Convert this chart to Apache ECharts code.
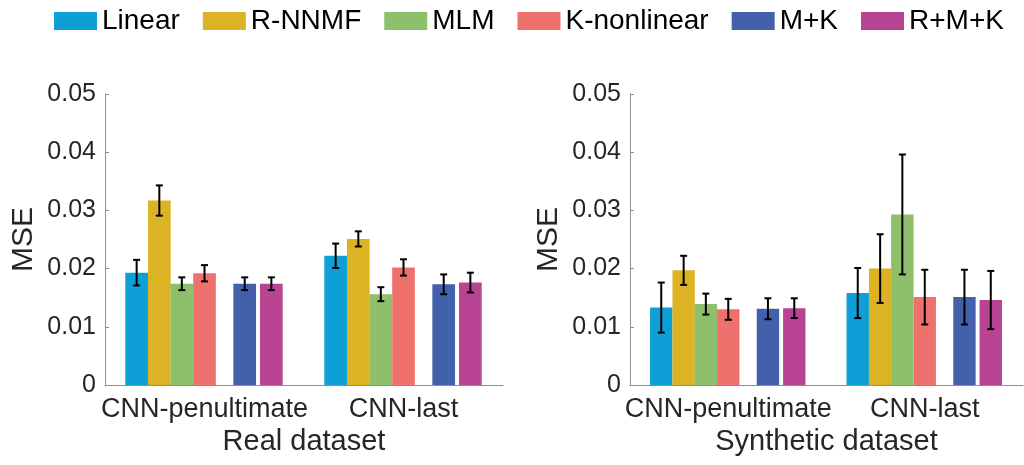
<!DOCTYPE html>
<html>
<head>
<meta charset="utf-8">
<script src="https://cdn.jsdelivr.net/npm/echarts@6/dist/echarts.min.js"></script>
<style>
  html, body { margin: 0; padding: 0; background: #fff; }
  #chart { width: 1024px; height: 465px; }
</style>
</head>
<body>
<div id="chart"></div>
<script>
// ---- Data ----
const categories = ['CNN-penultimate', 'CNN-last'];
const methods = ['Linear', 'R-NNMF', 'MLM', 'K-nonlinear', 'M+K', 'R+M+K'];
const yTicks = [0, 0.01, 0.02, 0.03, 0.04, 0.05];

// Real dataset (values per method, in method order) and half error-bar widths
const realPenultimate    = [0.0193, 0.0317, 0.0174, 0.0192, 0.0174, 0.0174];
const realPenultimateErr = [0.0022, 0.0026, 0.0011, 0.0014, 0.0011, 0.0011];
const realLast           = [0.0222, 0.0251, 0.0156, 0.0202, 0.0173, 0.0176];
const realLastErr        = [0.0021, 0.0013, 0.0012, 0.0014, 0.0017, 0.0017];

// Synthetic dataset
const synPenultimate     = [0.0133, 0.0197, 0.0139, 0.0130, 0.0131, 0.0132];
const synPenultimateErr  = [0.0043, 0.0025, 0.0018, 0.0018, 0.0018, 0.0017];
const synLast            = [0.0158, 0.0200, 0.0293, 0.0151, 0.0151, 0.0146];
const synLastErr         = [0.0043, 0.0059, 0.0103, 0.0047, 0.0047, 0.0050];

// ---- Styles / layout ----
const colors = ['#0E9FD6', '#DCB325', '#8EC06C', '#EF716E', '#4361AB', '#B84493'];
// bar centre offsets and width, as fractions of one category's width
const barOffsets = [-0.341, -0.227, -0.114, 0, 0.202, 0.336];
const barWidthFrac = 0.114;
const FONT = "'Liberation Sans', Arial, Helvetica, sans-serif";
const TEXT = '#262626';
const AXIS = '#8f8f8f';

function makeRender(mi) {
  return function (params, api) {
    const xi = api.value(0), v = api.value(1), e = api.value(2);
    const base = api.coord([xi, 0]);
    const top = api.coord([xi, v]);
    const cw = api.size([1, 0])[0];
    const cx = base[0] + barOffsets[mi] * cw;
    const w = barWidthFrac * cw;
    const hi = api.coord([xi, v + e])[1];
    const lo = api.coord([xi, v - e])[1];
    const cap = 3.5;
    const ls = { stroke: '#000', lineWidth: 2 };
    return {
      type: 'group',
      children: [
        { type: 'rect', shape: { x: cx - w / 2, y: top[1], width: w, height: base[1] - top[1] },
          style: { fill: colors[mi] } },
        { type: 'line', shape: { x1: cx, y1: hi, x2: cx, y2: lo }, style: ls },
        { type: 'line', shape: { x1: cx - cap, y1: hi, x2: cx + cap, y2: hi }, style: ls },
        { type: 'line', shape: { x1: cx - cap, y1: lo, x2: cx + cap, y2: lo }, style: ls }
      ]
    };
  };
}

const datasets = [
  { vals: [realPenultimate, realLast], errs: [realPenultimateErr, realLastErr] },
  { vals: [synPenultimate, synLast], errs: [synPenultimateErr, synLastErr] }
];

const series = [];
datasets.forEach(function (ds, g) {
  methods.forEach(function (m, mi) {
    series.push({
      name: m,
      type: 'custom',
      xAxisIndex: g,
      yAxisIndex: g,
      itemStyle: { color: colors[mi] },
      renderItem: makeRender(mi),
      encode: { x: 0, y: 1 },
      data: categories.map(function (c, ci) { return [ci, ds.vals[ci][mi], ds.errs[ci][mi]]; }),
      z: 2
    });
  });
});

function xAxisCfg(g, name) {
  return {
    type: 'category', gridIndex: g, data: categories,
    name: name, nameLocation: 'middle', nameGap: 41,
    nameTextStyle: { fontFamily: FONT, fontSize: 29, color: TEXT },
    axisLine: { show: true, lineStyle: { color: AXIS, width: 1 } },
    axisTick: { show: true, inside: true, alignWithLabel: true, length: 3, lineStyle: { color: AXIS } },
    axisLabel: { fontFamily: FONT, fontSize: 27, color: TEXT, margin: 11, interval: 0, hideOverlap: false },
    splitLine: { show: false }
  };
}
function yAxisCfg(g) {
  return {
    type: 'value', gridIndex: g, min: yTicks[0], max: yTicks[yTicks.length - 1], interval: 0.01,
    name: 'MSE', nameLocation: 'middle', nameGap: 66,
    nameTextStyle: { fontFamily: FONT, fontSize: 30, color: TEXT },
    axisLine: { show: true, lineStyle: { color: AXIS, width: 1 } },
    axisTick: { show: true, inside: true, length: 4, lineStyle: { color: AXIS } },
    axisLabel: { fontFamily: FONT, fontSize: 25, color: TEXT, margin: 9 },
    splitLine: { show: false }
  };
}

const chart = echarts.init(document.getElementById('chart'), null, { renderer: 'canvas' });
chart.setOption({
  backgroundColor: '#fff',
  animation: false,
  legend: {
    data: methods,
    left: 54, top: 7, padding: 0,
    itemWidth: 43, itemHeight: 18, itemGap: 23,
    icon: 'rect',
    textStyle: { fontFamily: FONT, fontSize: 28, color: '#000' }
  },
  grid: [
    { left: 105, right: 521, top: 94, bottom: 80 },
    { left: 630, right: 1, top: 94, bottom: 80 }
  ],
  xAxis: [xAxisCfg(0, 'Real dataset'), xAxisCfg(1, 'Synthetic dataset')],
  yAxis: [yAxisCfg(0), yAxisCfg(1)],
  series: series
});
</script>
</body>
</html>
